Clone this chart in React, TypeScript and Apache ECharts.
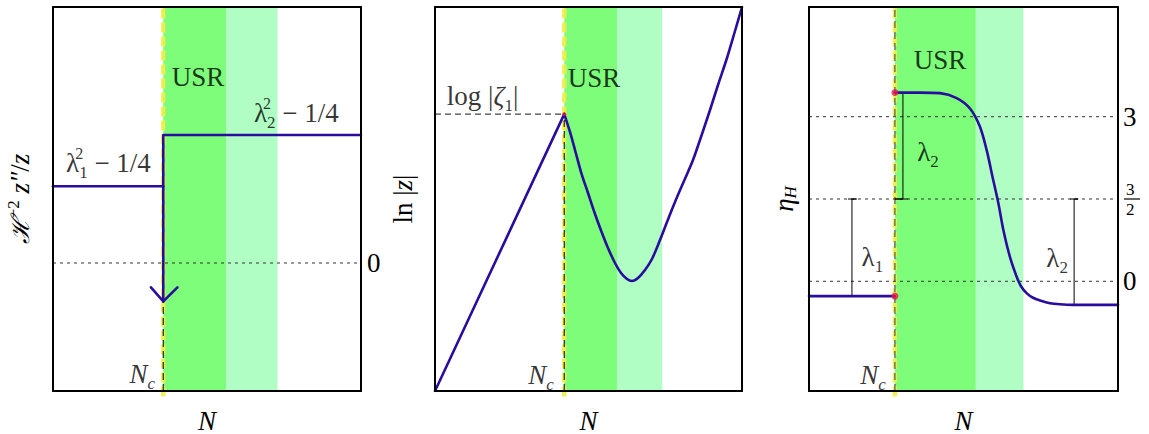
import React, { useEffect, useRef } from "react";
import * as echarts from "echarts";

const FONT = "Liberation Serif";
const BLUE = "#2a0c9e";
const DARK_GREEN = "#7dfd7a";
const LIGHT_GREEN = "#b1fec4";
const YELLOW = "rgba(238,238,70,0.9)";
const INK = "#000";

// ---------- panel 1 : H^-2 z''/z ----------
const p1YRange = [-1, 2];
const p1Nc = 0.358;
const p1Bands = [[0.358, 0.562, 0], [0.562, 0.729, 1]];
const p1Before = [[0, 0.6], [0.358, 0.6]];
const p1After = [[1, 1.0], [0.358, 1.0], [0.358, -0.3]];
const p1ArrowHead = [[0.318, -0.19], [0.358, -0.3], [0.404, -0.19]];
const p1Dotted = [0];
const p1NcDash = [[0.358, -1], [0.358, -0.3]];
const p1Ticks = [0];
const p1Labels = [
  { text: "{m|USR}", at: [0.471, 1.45] },
  { text: "{m|λ}{sups|2}{sub|2}{m| − 1/4}", at: [0.79, 1.17] },
  { text: "{m|λ}{sups|2}{sub|1}{m| − 1/4}", at: [0.18, 0.78] },
  { text: "{i|N}{isub|c}", at: [0.29, -0.87] },
];

// ---------- panel 2 : ln|z| ----------
const p2YRange = [0, 1];
const p2Nc = 0.421;
const p2Bands = [[0.421, 0.593, 0], [0.593, 0.74, 1]];
const p2Rise = [[0, 0], [0.421, 0.721]];
const p2Usr = [
  [0.421, 0.721], [0.4397, 0.6745], [0.456, 0.6276], [0.4756, 0.5703], [0.4984, 0.5156],
  [0.5212, 0.4609], [0.544, 0.4115], [0.5635, 0.3724], [0.5863, 0.3333], [0.6059, 0.3073],
  [0.6254, 0.2917], [0.6417, 0.2865], [0.6612, 0.2943], [0.684, 0.3151], [0.7068, 0.3438],
  [0.7329, 0.3932], [0.7557, 0.4401], [0.7818, 0.4922], [0.8111, 0.5469], [0.8404, 0.6016],
  [0.8664, 0.6615], [0.8958, 0.7318], [0.9218, 0.7969], [0.9511, 0.8672], [0.9772, 0.9375],
  [1, 1],
];
const p2PeakGuide = [[0, 0.721], [0.421, 0.721]];
const p2NcDash = [[0.421, 0], [0.421, 0.721]];
const p2Peak = [[0.421, 0.721]];
const p2Labels = [
  { text: "{m|USR}", at: [0.518, 0.815] },
  { text: "{m|log |}{i|ζ}{sub1|1}{m||}", at: [0.155, 0.768] },
  { text: "{i|N}{isub|c}", at: [0.345, 0.042] },
];

// ---------- panel 3 : eta_H ----------
const p3YRange = [-2, 5];
const p3Nc = 0.278;
const p3Bands = [[0.278, 0.54, 0], [0.54, 0.694, 1]];
const p3Before = [[0, -0.27], [0.278, -0.27]];
const p3Usr = [
  [0.278, 3.44], [0.359, 3.44], [0.424, 3.43], [0.478, 3.34], [0.521, 3.15], [0.553, 2.82],
  [0.575, 2.39], [0.596, 1.85], [0.613, 1.42], [0.629, 0.935], [0.65, 0.45], [0.672, 0.084],
  [0.686, -0.09], [0.705, -0.22], [0.725, -0.3], [0.748, -0.35], [0.78, -0.4], [0.812, -0.42],
  [0.854, -0.43], [1, -0.43],
];
const p3Dots = [[0.278, 3.44], [0.278, -0.27]];
const p3Dotted = [3, 1.5, 0];
const p3NcDash = [[0.278, -2], [0.278, 5]];
const p3Brackets = [
  [[0.126, 1.5], [0.154, 1.5], [0.139, 1.5], [0.139, -0.27], [0.126, -0.27], [0.154, -0.27]],
  [[0.278, 3.44], [0.32, 3.44], [0.304, 3.44], [0.304, 1.5], [0.278, 1.5], [0.32, 1.5]],
  [[0.845, 1.5], [0.871, 1.5], [0.858, 1.5], [0.858, -0.43], [0.845, -0.43], [0.871, -0.43]],
];
const p3Labels = [
  { text: "{m|USR}", at: [0.424, 4.03] },
  { text: "{m|λ}{sub|1}", at: [0.205, 0.44] },
  { text: "{m|λ}{sub|2}", at: [0.385, 2.35] },
  { text: "{m|λ}{sub|2}", at: [0.803, 0.43] },
  { text: "{i|N}{isub|c}", at: [0.207, -1.7] },
];

const RICH: any = {
  m: { fontFamily: FONT, fontSize: 27, color: INK, lineHeight: 36 },
  i: { fontFamily: FONT, fontSize: 27, fontStyle: "italic", color: INK, lineHeight: 36 },
  sups: { fontFamily: FONT, fontSize: 16, color: INK, lineHeight: 13, verticalAlign: "top", width: 0 },
  sup: { fontFamily: FONT, fontSize: 17, color: INK, lineHeight: 14, verticalAlign: "top" },
  sub: { fontFamily: FONT, fontSize: 17, color: INK, lineHeight: 14, verticalAlign: "bottom" },
  sub1: { fontFamily: FONT, fontSize: 17, color: INK, lineHeight: 22, verticalAlign: "bottom" },
  isub: { fontFamily: FONT, fontSize: 17, fontStyle: "italic", color: INK, lineHeight: 14, verticalAlign: "bottom" },
  n: { fontFamily: FONT, fontSize: 17, color: INK, lineHeight: 20, padding: [0, 0, 0, 3] },
};

const GRIDS = [
  { left: 53, top: 7, width: 308, height: 384 },
  { left: 435, top: 7, width: 307, height: 384 },
  { left: 809, top: 7, width: 309, height: 384 },
];

export default function App() {
  const ref = useRef<HTMLDivElement>(null);
  useEffect(() => {
    if (!ref.current) return;
    const chart = echarts.init(ref.current, undefined, { renderer: "svg" });
    const frame = { show: true, onZero: false, lineStyle: { color: "#000", width: 2 } };
    const none = { show: false };

    const xAxis: any[] = [];
    const yAxis: any[] = [];
    const yRanges = [p1YRange, p2YRange, p3YRange];
    const yNames = [
      "{c|ℋ}{sup|−2}{m| }{i|z″}{m|/}{i|z}",
      "{m|ln |}{i|z}{m||}",
      "{i|η}{isub|H}",
    ];
    const yNameGaps = [18, 17, 10];
    for (let p = 0; p < 3; p++) {
      const common = { type: "value", gridIndex: p, axisTick: none, splitLine: none, z: 10 };
      xAxis.push({
        ...common, min: 0, max: 1, position: "bottom", axisLine: frame, axisLabel: none,
        name: "N", nameLocation: "middle", nameGap: 16,
        nameTextStyle: { fontFamily: FONT, fontSize: 27, fontStyle: "italic", color: INK },
      });
      xAxis.push({ ...common, min: 0, max: 1, position: "top", axisLine: frame, axisLabel: none });
      yAxis.push({
        ...common, min: yRanges[p][0], max: yRanges[p][1], position: "left", axisLine: frame, axisLabel: none,
        name: yNames[p], nameLocation: "middle", nameGap: yNameGaps[p],
        nameTextStyle: {
          rich: {
            ...RICH,
            m: { ...RICH.m, lineHeight: 30 },
            i: { ...RICH.i, lineHeight: 30 },
            c: { fontFamily: "DejaVu Serif", fontSize: 25, fontStyle: "italic", color: INK, lineHeight: 30 },
          },
        },
      });
      let rightLabel: any = none;
      let interval: number | undefined = undefined;
      if (p === 0) {
        interval = 1;
        rightLabel = {
          show: true, margin: 6, fontFamily: FONT, fontSize: 27, color: INK,
          formatter: (v: number) => (p1Ticks.includes(v) ? String(v) : ""),
        };
      } else if (p === 2) {
        interval = 0.5;
        rightLabel = {
          show: true, margin: 5, fontFamily: FONT, fontSize: 27, color: INK, rich: RICH,
          formatter: (v: number) =>
            v === 1.5 ? "{n|3}\n{n|2}" : p3Dotted.includes(v) ? String(v) : "",
        };
      }
      yAxis.push({
        ...common, min: yRanges[p][0], max: yRanges[p][1], interval, position: "right",
        axisLine: frame, axisLabel: rightLabel,
      });
    }

    const ax = (p: number) => ({ xAxisIndex: p * 2, yAxisIndex: p * 2 });
    const series: any[] = [];
    const line = (p: number, data: number[][], style: any, z: number, extra: any = {}) =>
      series.push({
        type: "line", ...ax(p), data, symbol: "none", showSymbol: false, silent: true, z,
        lineStyle: style, ...extra,
      });
    const bands = (p: number, data: number[][]) => {
      const [ymin, ymax] = yRanges[p];
      series.push({
        type: "custom", ...ax(p), z: 1, silent: true, data,
        renderItem: (_params: any, api: any) => {
          const a = api.coord([api.value(0), ymax]);
          const b = api.coord([api.value(1), ymin]);
          return {
            type: "rect",
            shape: { x: a[0], y: a[1], width: b[0] - a[0], height: b[1] - a[1] },
            style: { fill: api.value(2) === 0 ? DARK_GREEN : LIGHT_GREEN },
          };
        },
      });
    };
    const labels = (p: number, items: { text: string; at: number[] }[]) =>
      series.push({
        type: "scatter", ...ax(p), z: 8, silent: true, symbolSize: 1,
        itemStyle: { color: "rgba(0,0,0,0)" },
        label: { show: true, position: "inside", rich: RICH, color: INK },
        data: items.map((it) => ({ value: it.at, label: { formatter: it.text } })),
      });
    const dotted = (p: number, levels: number[]) =>
      levels.forEach((v) =>
        line(p, [[0, v], [1, v]], { color: "#333", width: 1, type: [3, 4] }, 3)
      );
    const ncLine = (p: number, nc: number) => {
      const [ymin, ymax] = yRanges[p];
      const ext = (ymax - ymin) * 0.014; // yellow marker pokes slightly below the frame
      line(p, [[nc, ymin - ext], [nc, ymax]], { color: YELLOW, width: 4.5, type: [10, 4] }, 2, { clip: false });
    };
    const blackDash = (p: number, data: number[][], color = "#222") =>
      line(p, data, { color, width: 1.2, type: [7, 4] }, 4);
    const blue = (p: number, data: number[][], extra: any = {}) =>
      line(p, data, { color: BLUE, width: 2.6, cap: "round", join: "round" }, 6, extra);

    // panel 1
    bands(0, p1Bands);
    ncLine(0, p1Nc);
    blackDash(0, p1NcDash);
    dotted(0, p1Dotted);
    blue(0, p1Before);
    blue(0, p1After);
    blue(0, p1ArrowHead);
    labels(0, p1Labels);

    // panel 2
    bands(1, p2Bands);
    ncLine(1, p2Nc);
    blackDash(1, p2NcDash);
    line(1, p2PeakGuide, { color: "#444", width: 1.2, type: [6, 4] }, 4);
    blue(1, p2Rise);
    blue(1, p2Usr, { smooth: 0.3 });
    series.push({
      type: "scatter", ...ax(1), z: 7, silent: true, symbolSize: 4,
      itemStyle: { color: "#e0194a" }, data: p2Peak,
    });
    labels(1, p2Labels);

    // panel 3
    bands(2, p3Bands);
    ncLine(2, p3Nc);
    blackDash(2, p3NcDash, "#555");
    dotted(2, p3Dotted);
    p3Brackets.forEach((b) => line(2, b, { color: "#000", width: 1 }, 5));
    blue(2, p3Before);
    blue(2, p3Usr, { smooth: 0.3 });
    series.push({
      type: "scatter", ...ax(2), z: 7, silent: true, symbolSize: 7,
      itemStyle: { color: "#e8194b" }, data: p3Dots,
    });
    labels(2, p3Labels);

    chart.setOption({
      animation: false,
      backgroundColor: "#fff",
      grid: GRIDS.map((g) => ({ ...g, containLabel: false, outerBoundsMode: "none" })),
      xAxis,
      yAxis,
      series,
    });

    // fraction bar for the 3/2 tick label
    const yBar = chart.convertToPixel({ yAxisIndex: 5 } as any, 1.5) as unknown as number;
    const xRight = chart.convertToPixel({ xAxisIndex: 4 } as any, 1) as unknown as number;
    chart.setOption({
      graphic: [
        {
          type: "line", z: 20, silent: true,
          shape: { x1: xRight + 6, y1: yBar, x2: xRight + 22, y2: yBar },
          style: { stroke: INK, lineWidth: 1.2 },
        },
      ],
    });

    return () => chart.dispose();
  }, []);
  return (
    <div
      ref={ref}
      style={{ position: "fixed", left: 0, top: 0, width: 1149, height: 434, background: "#fff" }}
    />
  );
}
